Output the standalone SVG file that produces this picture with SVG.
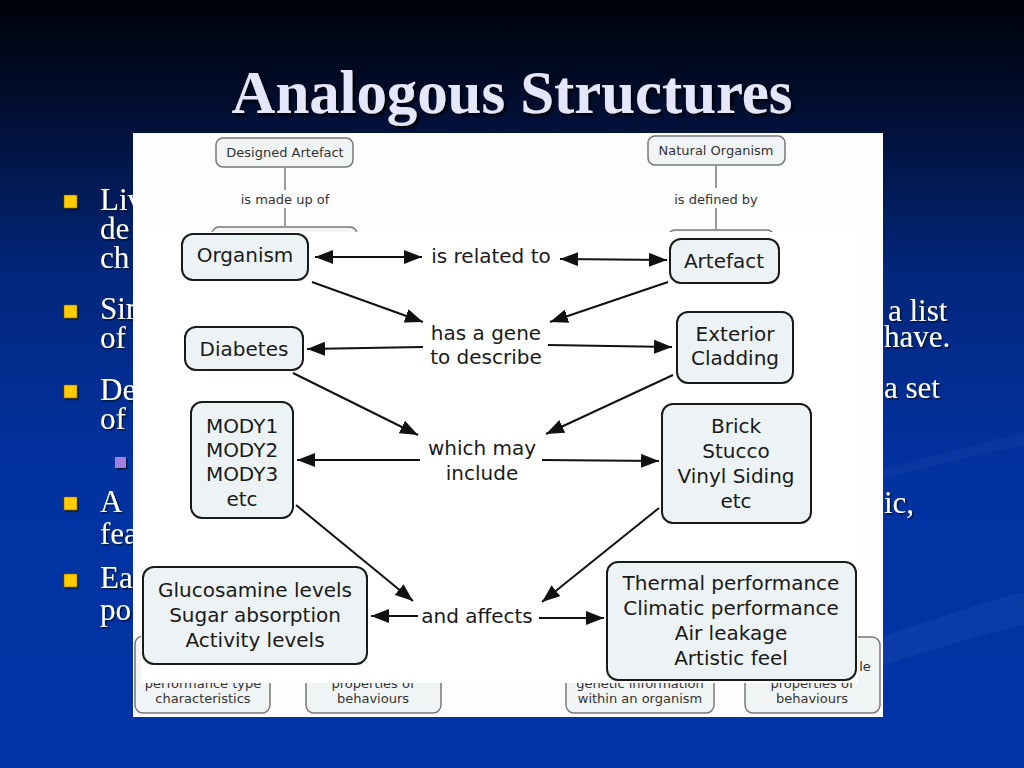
<svg xmlns="http://www.w3.org/2000/svg" width="1024" height="768" viewBox="0 0 1024 768">
<defs>
<linearGradient id="bg" x1="0" y1="0" x2="0" y2="1">
<stop offset="0" stop-color="#00020a"/>
<stop offset="0.12" stop-color="#010c2a"/>
<stop offset="0.35" stop-color="#02267a"/>
<stop offset="0.6" stop-color="#0232a0"/>
<stop offset="1" stop-color="#0134a6"/>
</linearGradient>
<filter id="sh" x="-5%" y="-20%" width="110%" height="140%">
<feDropShadow dx="2.5" dy="2.5" stdDeviation="0.8" flood-color="#000000" flood-opacity="0.85"/>
</filter>
<filter id="sh2" x="-10%" y="-20%" width="120%" height="140%">
<feDropShadow dx="1.5" dy="1.5" stdDeviation="0.6" flood-color="#000820" flood-opacity="0.8"/>
</filter>
<marker id="ah" viewBox="0 0 18 14" markerWidth="18" markerHeight="14" refX="18" refY="7" orient="auto-start-reverse" markerUnits="userSpaceOnUse">
<path d="M0,0 L18,7 L0,14 z" fill="#111"/>
</marker>
<style>
.title{font-family:"Liberation Serif",serif;font-size:62px;font-weight:bold;fill:#e6e6fa}
.bt{font-family:"Liberation Serif",serif;font-size:31px;fill:#ffffff}
.bul{fill:#ffcc00;stroke:#7a5a00;stroke-width:0.5}
.sub{fill:#9f7fe0}
.bgbox{fill:#f1f4f5;stroke:#777;stroke-width:1.5}
.bgt{font-family:"DejaVu Sans",sans-serif;font-size:13px;fill:#333;text-anchor:middle}
.bgl{stroke:#666;stroke-width:1.3;fill:none}
.box{fill:#edf3f4;stroke:#1a1a1a;stroke-width:2}
.t{font-family:"DejaVu Sans",sans-serif;font-size:20px;fill:#1a1a1a;text-anchor:middle}
.c{stroke:#111;stroke-width:2;fill:none}
</style>
</defs>
<rect x="0" y="0" width="1024" height="768" fill="url(#bg)"/>
<path d="M880,470 C940,455 990,440 1024,432 L1024,445 C990,452 940,465 880,480 z" fill="#ffffff" opacity="0.03"/>
<path d="M840,650 C930,620 990,600 1024,592 L1024,625 C990,632 930,650 840,680 z" fill="#ffffff" opacity="0.04"/>

<g id="title">
<text class="title" x="512" y="113" text-anchor="middle" textLength="561" lengthAdjust="spacingAndGlyphs" filter="url(#sh)">Analogous Structures</text>
</g>

<g id="bullets">
<rect class="bul" x="64" y="195" width="13" height="13" filter="url(#sh2)"/>
<rect class="bul" x="64" y="305" width="13" height="13" filter="url(#sh2)"/>
<rect class="bul" x="64" y="385" width="13" height="13" filter="url(#sh2)"/>
<rect class="sub" x="115" y="457" width="11" height="11" filter="url(#sh2)"/>
<rect class="bul" x="64" y="497" width="13" height="13" filter="url(#sh2)"/>
<rect class="bul" x="64" y="574" width="13" height="13" filter="url(#sh2)"/>
<g filter="url(#sh2)">
<text class="bt" x="100" y="210">Liv</text>
<text class="bt" x="100" y="239">de</text>
<text class="bt" x="100" y="268">ch</text>
<text class="bt" x="100" y="319">Sim</text>
<text class="bt" x="100" y="348">of</text>
<text class="bt" x="100" y="400">De</text>
<text class="bt" x="100" y="429">of</text>
<text class="bt" x="100" y="512">A</text>
<text class="bt" x="100" y="544">fea</text>
<text class="bt" x="100" y="588">Ea</text>
<text class="bt" x="100" y="620">po</text>
<text class="bt" x="888" y="321">a list</text>
<text class="bt" x="884" y="347">have.</text>
<text class="bt" x="884" y="398">a set</text>
<text class="bt" x="884" y="513">ic,</text>
</g>
</g>

<rect id="picture" x="133" y="133" width="750" height="584" fill="#fdfdfd"/>

<g id="background-map">
<g id="bg-designed"><rect class="bgbox" x="216" y="138" width="137" height="29" rx="7"/><text class="bgt" x="285" y="157">Designed Artefact</text></g>
<g id="bg-natural"><rect class="bgbox" x="648" y="136" width="137" height="29" rx="7"/><text class="bgt" x="716" y="155">Natural Organism</text></g>
<text class="bgt" x="285" y="204">is made up of</text>
<text class="bgt" x="716" y="204">is defined by</text>
<path class="bgl" d="M285,168 V190 M285,208 V226 M716,166 V188 M716,208 V229"/>
<rect class="bgbox" x="212" y="227" width="145" height="40" rx="7"/>
<rect class="bgbox" x="668" y="230" width="106" height="40" rx="7"/>
<g id="bg-b1"><rect class="bgbox" x="135" y="636" width="135" height="77" rx="8"/><text class="bgt" x="203" y="688">performance type</text><text class="bgt" x="203" y="703">characteristics</text></g>
<g id="bg-b2"><rect class="bgbox" x="306" y="636" width="135" height="77" rx="8"/><text class="bgt" x="373" y="688">properties of</text><text class="bgt" x="373" y="703">behaviours</text></g>
<g id="bg-b3"><rect class="bgbox" x="566" y="636" width="148" height="77" rx="8"/><text class="bgt" x="640" y="688">genetic information</text><text class="bgt" x="640" y="703">within an organism</text></g>
<g id="bg-b4"><rect class="bgbox" x="745" y="637" width="135" height="76" rx="8"/><text class="bgt" x="865" y="671">le</text><text class="bgt" x="812" y="688">properties of</text><text class="bgt" x="812" y="703">behaviours</text></g>
</g>

<rect id="front-picture" x="141" y="232" width="717" height="451" fill="#ffffff"/>

<g id="connectors">
<path class="c" d="M315,257 L422,257" marker-start="url(#ah)" marker-end="url(#ah)"/>
<path class="c" d="M560,259 L667,260" marker-start="url(#ah)" marker-end="url(#ah)"/>
<path class="c" d="M312,282 L423,322" marker-end="url(#ah)"/>
<path class="c" d="M668,282 L550,322" marker-end="url(#ah)"/>
<path class="c" d="M423,347 L307,349" marker-end="url(#ah)"/>
<path class="c" d="M548,345 L672,347" marker-end="url(#ah)"/>
<path class="c" d="M293,373 L418,435" marker-end="url(#ah)"/>
<path class="c" d="M673,375 L546,434" marker-end="url(#ah)"/>
<path class="c" d="M420,460 L297,460" marker-end="url(#ah)"/>
<path class="c" d="M542,460 L659,461" marker-end="url(#ah)"/>
<path class="c" d="M296,505 L413,601" marker-end="url(#ah)"/>
<path class="c" d="M659,508 L542,602" marker-end="url(#ah)"/>
<path class="c" d="M418,616 L371,616" marker-end="url(#ah)"/>
<path class="c" d="M539,618 L604,618" marker-end="url(#ah)"/>
</g>

<g id="organism"><rect class="box" x="182" y="234" width="126" height="46" rx="11"/><text class="t" x="245" y="262">Organism</text></g>
<g id="artefact"><rect class="box" x="670" y="239" width="109" height="44" rx="11"/><text class="t" x="724" y="268">Artefact</text></g>
<g id="diabetes"><rect class="box" x="185" y="327" width="118" height="43" rx="11"/><text class="t" x="244" y="356">Diabetes</text></g>
<g id="cladding"><rect class="box" x="677" y="312" width="116" height="71" rx="11"/><text class="t" x="735" y="341">Exterior</text><text class="t" x="735" y="365">Cladding</text></g>
<g id="mody"><rect class="box" x="191" y="402" width="102" height="116" rx="11"/><text class="t" x="242" y="433">MODY1</text><text class="t" x="242" y="457">MODY2</text><text class="t" x="242" y="481">MODY3</text><text class="t" x="242" y="506">etc</text></g>
<g id="brick"><rect class="box" x="662" y="404" width="149" height="119" rx="11"/><text class="t" x="736" y="433">Brick</text><text class="t" x="736" y="458">Stucco</text><text class="t" x="736" y="483">Vinyl Siding</text><text class="t" x="736" y="508">etc</text></g>
<g id="glucosamine"><rect class="box" x="143" y="567" width="224" height="97" rx="11"/><text class="t" x="255" y="597">Glucosamine levels</text><text class="t" x="255" y="622">Sugar absorption</text><text class="t" x="255" y="647">Activity levels</text></g>
<g id="thermal"><rect class="box" x="607" y="562" width="249" height="118" rx="11"/><text class="t" x="731" y="590">Thermal performance</text><text class="t" x="731" y="615">Climatic performance</text><text class="t" x="731" y="640">Air leakage</text><text class="t" x="731" y="665">Artistic feel</text></g>

<g id="link-labels">
<text class="t" x="491" y="263">is related to</text>
<text class="t" x="486" y="340">has a gene</text>
<text class="t" x="486" y="364">to describe</text>
<text class="t" x="482" y="455">which may</text>
<text class="t" x="482" y="480">include</text>
<text class="t" x="477" y="623">and affects</text>
</g>
</svg>
